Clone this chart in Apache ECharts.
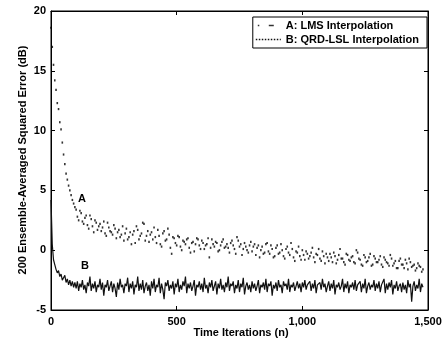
<!DOCTYPE html>
<html>
<head>
<meta charset="utf-8">
<script src="https://cdn.jsdelivr.net/npm/echarts@6/dist/echarts.min.js"></script>
<style>
  html, body { margin: 0; padding: 0; background: #fff; }
  #chart { width: 446px; height: 341px; }
</style>
</head>
<body>
<div id="chart"></div>
<script>
// LMS curve (A), read every 10 iterations starting at n=0
const lmsStep = 10;
const lmsValues = [
  18.6, 15.5, 13.4, 11.8, 10.1, 8.0, 6.4, 5.4, 4.6, 3.9,
  3.4, 2.5, 3.1, 2.2, 2.9, 1.8, 2.6, 1.5, 2.3, 2.0,
  1.6, 2.4, 1.2, 1.9, 1.5, 2.1, 1.0, 1.7, 1.3, 0.8,
  1.8, 1.1, 0.5, 1.6, 2.0, 0.9, 1.4, 2.2, 1.2, 0.7,
  1.5, 1.9, 0.6, 1.2, 0.3, 1.6, 0.9, 1.3, -0.3, 1.0,
  0.4, 1.1, 0.0, 0.7, 0.9, 0.2, 0.6, -0.1, 1.0, 0.4,
  0.8, 0.1, 0.5, -0.6, 0.9, 0.3, 0.6, 0.0, 0.7, 0.2,
  0.5, -0.2, 0.8, 0.1, 1.1, 0.3, -0.4, 0.6, 0.0, 0.4,
  -0.1, 0.5, 0.2, -0.6, 0.3, -0.2, 0.6, -0.3, 0.1, -0.5,
  0.4, -0.2, 0.0, -0.7, 0.3, -0.4, 0.1, -0.9, -0.2, -0.5,
  0.0, -0.8, -0.3, -0.5, 0.2, -1.0, -0.4, -0.7, -0.1, -1.1,
  -0.6, -0.3, -1.0, -0.5, -0.8, 0.1, -0.7, -1.2, -0.4, -0.9,
  -0.5, -1.1, -0.2, -0.8, -1.3, -0.6, -0.9, -0.3, -1.2, -0.7,
  -1.0, -0.5, -1.4, -0.8, -1.1, -0.4, -1.3, -0.9, -1.5, -0.7,
  -1.2, -0.8, -1.6, -1.0, -1.3, -1.7, -1.1, -1.4, -1.6
];
// LMS curve (A), the points in between, n=5,15,25,...
const lmsMidValues = [
  17.0, 14.2, 12.3, 10.7, 9.0, 7.2, 5.9, 5.0, 4.2, 3.6,
  2.8, 3.3, 2.4, 2.7, 2.1, 2.9, 2.0, 2.5, 1.7, 2.2,
  1.9, 1.4, 2.3, 1.6, 1.3, 1.8, 1.5, 1.1, 2.0, 1.4,
  0.9, 1.5, 1.3, 0.6, 1.7, 1.2, 2.3, 0.8, 1.6, 1.3,
  0.9, 1.1, 1.7, 0.5, 1.4, 0.8, 1.8, 0.2, 1.1, 0.6,
  1.2, 0.3, 0.8, 0.5, 1.0, -0.2, 0.7, 0.5, 0.9, 0.1,
  0.6, 0.4, 1.0, 0.2, 0.5, 0.7, -0.1, 0.4, 0.9, 0.3,
  0.2, 0.6, 0.4, -0.3, 0.8, 0.5, 0.1, 0.3, -0.2, 0.7,
  0.3, -0.4, 0.4, 0.0, -0.3, 0.5, -0.1, 0.4, -0.6, 0.2,
  -0.3, 0.5, -0.5, 0.1, -0.2, 0.6, -0.6, -0.1, 0.3, -0.8,
  -0.4, -0.1, -0.7, -0.2, -0.6, -0.3, 0.1, -0.9, -0.5, -0.3,
  -0.9, -0.6, -0.2, -1.1, -0.4, -0.7, -1.0, -0.3, -0.8, -0.6,
  -1.0, 0.0, -0.7, -1.2, -0.4, -1.0, -0.6, -1.3, -0.5, -1.0,
  -0.8, -1.2, -0.6, -1.0, -1.3, -0.7, -1.1, -1.5, -0.9, -1.2,
  -1.5, -1.1, -0.7, -1.4, -1.2, -1.5, -1.3, -1.8
];

// QRD-LSL curve (B), read every 5 iterations
const qrdStep = 5;
const qrdValues = [
  4.2, 0.5, -0.8, -1.2, -1.6, -1.9, -1.7, -2.2, -2.0, -2.5, -2.3, -2.1, -2.7, -2.4, -2.9, -2.5, -3.0, -2.6, -3.1, -2.7,
  -3.2, -2.6, -3.4, -2.8, -3.1, -2.5, -3.3, -2.9, -3.6, -2.7, -3.0, -2.2, -3.4, -2.8, -3.2, -2.6, -3.5, -2.9, -3.1, -2.4,
  -3.3, -2.7, -3.8, -2.9, -3.1, -2.5, -3.4, -3.0, -2.6, -3.5, -2.8, -3.2, -3.9, -2.7, -3.3, -2.4, -3.1, -2.9, -3.6, -2.8,
  -3.0, -2.3, -3.5, -2.8, -3.2, -2.6, -3.7, -2.9, -3.1, -2.2, -3.4, -2.8, -3.3, -2.5, -3.6, -3.0, -2.7, -3.4, -2.9, -3.8,
  -2.6, -3.2, -2.4, -3.5, -2.9, -3.1, -2.3, -3.6, -2.8, -3.3, -4.1, -2.7, -3.0, -2.5, -3.4, -2.9, -3.2, -2.6, -3.7, -2.8,
  -3.1, -2.4, -3.5, -2.9, -3.3, -2.6, -3.0, -2.2, -3.6, -2.8, -3.2, -2.7, -3.4, -3.0, -2.5, -3.8, -2.9, -3.1, -2.6, -3.3,
  -2.8, -3.5, -2.3, -3.2, -2.9, -3.6, -2.7, -3.1, -2.5, -3.4, -3.0, -2.6, -3.7, -2.8, -3.2, -2.4, -3.3, -2.9, -3.5, -2.7,
  -3.1, -2.2, -3.4, -2.8, -3.0, -2.6, -3.6, -2.9, -3.2, -2.5, -3.5, -2.8, -3.1, -2.3, -3.7, -3.0, -2.7, -3.3, -2.9, -3.5,
  -2.6, -3.2, -2.8, -3.4, -3.0, -2.5, -3.6, -2.9, -3.1, -2.7, -3.3, -2.4, -3.5, -2.8, -3.0, -2.6, -3.8, -2.9, -3.2, -2.7,
  -3.4, -2.5, -3.1, -2.9, -3.6, -2.6, -3.0, -2.8, -3.3, -2.4, -3.5, -2.9, -3.1, -2.7, -3.4, -3.0, -2.6, -3.2, -2.8, -3.5,
  -2.7, -3.1, -2.5, -3.3, -2.9, -3.0, -2.6, -3.4, -2.8, -3.2, -2.5, -3.6, -2.9, -3.0, -2.7, -3.3, -2.4, -3.1, -2.8, -3.5,
  -3.0, -2.6, -3.4, -2.8, -3.2, -2.5, -3.7, -2.9, -3.1, -2.7, -3.3, -3.0, -2.4, -3.5, -2.8, -3.2, -2.6, -3.6, -2.9, -3.1,
  -2.7, -3.3, -2.5, -3.4, -2.9, -3.0, -2.6, -3.5, -2.8, -3.2, -2.4, -3.6, -3.0, -2.7, -3.3, -2.9, -3.1, -2.5, -3.4, -2.8,
  -3.2, -2.6, -3.5, -2.9, -3.0, -2.4, -3.6, -2.8, -3.3, -2.7, -3.1, -2.5, -3.7, -2.9, -3.2, -2.6, -3.4, -3.0, -2.8, -3.5,
  -2.7, -3.3, -2.9, -3.6, -2.5, -3.1, -2.8, -4.3, -3.0, -2.6, -3.4, -2.9, -3.2, -2.4, -3.5, -2.8, -3.1
];

const xTicks = [0, 500, 1000, 1500];
const yTicks = [-5, 0, 5, 10, 15, 20];
const seriesNames = ['A: LMS Interpolation', 'B: QRD-LSL Interpolation'];
const xTitle = 'Time Iterations (n)';
const yTitle = '200 Ensemble-Averaged Squared Error (dB)';

const font = '"Liberation Sans", Arial, sans-serif';
const lmsData = lmsValues.map((v, i) => [i * lmsStep, v])
  .concat(lmsMidValues.map((v, i) => [i * lmsStep + 5, v]));
const qrdData = qrdValues.map((v, i) => [i * qrdStep, v]);

const chart = echarts.init(document.getElementById('chart'));

function labelStyle() { return { color: '#000', fontFamily: font, fontWeight: 'bold', fontSize: 11 }; }
function axisTick() { return { show: true, inside: true, length: 4, lineStyle: { color: '#000' } }; }
function axisLine() { return { show: true, onZero: false, lineStyle: { color: '#000', width: 1 } }; }
function textMark(text, coord) {
  return {
    symbol: 'circle',
    symbolSize: 0,
    label: Object.assign({ show: true, formatter: text, position: 'inside' }, labelStyle()),
    data: [{ coord }]
  };
}

chart.setOption({
  animation: false,
  backgroundColor: '#fff',
  grid: {
    left: 51, right: 18, top: 11, bottom: 31,
    outerBoundsMode: 'none',
    show: true, borderColor: '#000', borderWidth: 1
  },
  graphic: [{
    type: 'text',
    x: 23,
    y: 160,
    rotation: Math.PI / 2,
    style: { text: yTitle, fill: '#000', font: 'bold 11px ' + font, align: 'center', verticalAlign: 'middle' }
  }, {
    type: 'text',
    x: 241,
    y: 333,
    style: { text: xTitle, fill: '#000', font: 'bold 11px ' + font, align: 'center', verticalAlign: 'middle' }
  }],
  legend: {
    right: 19,
    top: 17,
    orient: 'vertical',
    itemGap: 3,
    itemWidth: 25,
    itemHeight: 2,
    padding: [3, 8, 3, 3],
    borderColor: '#000',
    borderWidth: 1,
    backgroundColor: '#fff',
    textStyle: labelStyle(),
    data: [
      { name: seriesNames[0], icon: 'path://M2,0h1.5v1.5h-1.5z M13,0h5v1.5h-5z M0,0h0.01v1.5h-0.01z M25,0h0.01v1.5h-0.01z' },
      { name: seriesNames[1], icon: 'path://M0,0h1.5v1.5h-1.5z M3,0h1.5v1.5h-1.5z M6,0h1.5v1.5h-1.5z M9,0h1.5v1.5h-1.5z M12,0h1.5v1.5h-1.5z M15,0h1.5v1.5h-1.5z M18,0h1.5v1.5h-1.5z M21,0h1.5v1.5h-1.5z M24,0h1v1.5h-1z' }
    ]
  },
  xAxis: [{
    type: 'value',
    min: xTicks[0],
    max: xTicks[xTicks.length - 1],
    interval: 500,
    axisLine: axisLine(),
    axisTick: axisTick(),
    axisLabel: Object.assign({ margin: 6 }, labelStyle()),
    splitLine: { show: false }
  }, {
    type: 'value',
    position: 'top',
    min: xTicks[0],
    max: xTicks[xTicks.length - 1],
    interval: 500,
    axisLine: axisLine(),
    axisTick: axisTick(),
    axisLabel: { show: false },
    splitLine: { show: false }
  }],
  yAxis: [{
    type: 'value',
    min: yTicks[0],
    max: yTicks[yTicks.length - 1],
    interval: 5,
    axisLine: axisLine(),
    axisTick: axisTick(),
    axisLabel: Object.assign({ margin: 5 }, labelStyle()),
    splitLine: { show: false }
  }, {
    type: 'value',
    position: 'right',
    min: yTicks[0],
    max: yTicks[yTicks.length - 1],
    interval: 5,
    axisLine: axisLine(),
    axisTick: axisTick(),
    axisLabel: { show: false },
    splitLine: { show: false }
  }],
  series: [{
    name: seriesNames[1],
    type: 'line',
    data: qrdData,
    showSymbol: false,
    lineStyle: { color: '#111', width: 1.2 },
    itemStyle: { color: '#111' },
    markPoint: textMark('B', [135, -1.3])
  }, {
    name: seriesNames[0],
    type: 'scatter',
    data: lmsData,
    symbol: 'rect',
    symbolSize: [1.6, 2.2],
    itemStyle: { color: '#000' },
    markPoint: textMark('A', [123, 4.3])
  }]
});
</script>
</body>
</html>
